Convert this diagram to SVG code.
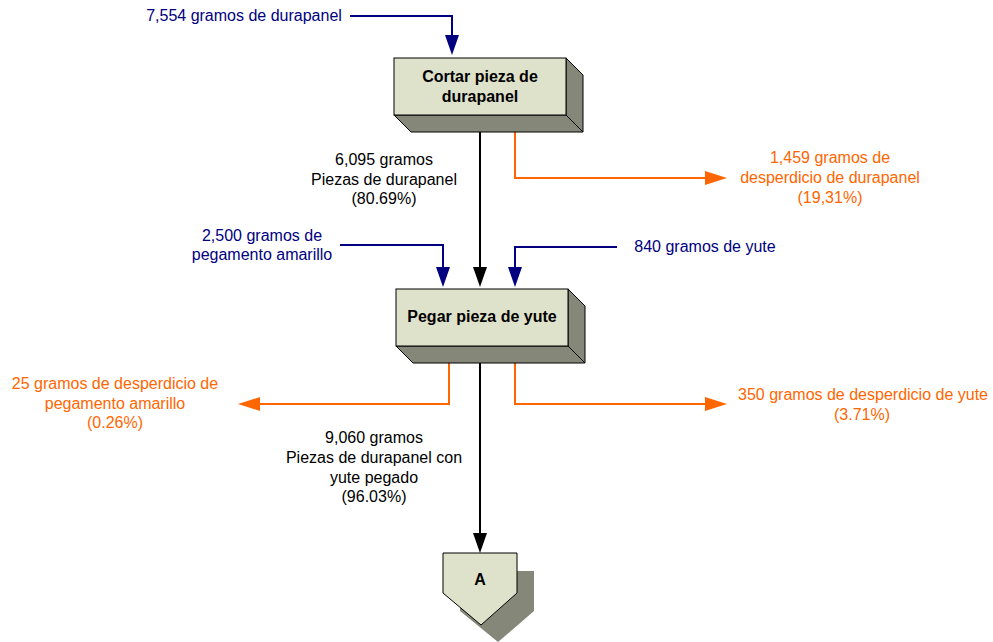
<svg xmlns="http://www.w3.org/2000/svg" width="993" height="642" viewBox="0 0 993 642">
  <style>
    text { font-family: "Liberation Sans", Arial, sans-serif; font-size: 16px; text-anchor: middle; }
    .blue { fill: #000080; }
    .orange { fill: #FF6600; }
    .black { fill: #000000; }
    .title { font-weight: bold; font-size: 16px; fill: #000; }
    .face { fill: #DFE2CB; stroke: #000; stroke-width: 1; }
    .shade { fill: #858878; stroke: #000; stroke-width: 1; }
    .ln { fill: none; stroke-width: 2; }
    .lb { stroke: #000080; }
    .lo { stroke: #FF6600; }
    .lk { stroke: #000; }
  </style>

  <rect width="993" height="642" fill="#FFFFFF"/>

  <!-- connectors -->
  <g id="connectors">
    <!-- feed lines (blue) -->
    <polyline class="ln lb" points="350,16 452,16 452,36"/>
    <polygon points="445,35 459,35 452,55" fill="#000080"/>
    <polyline class="ln lb" points="340,245 443,245 443,268"/>
    <polygon points="436,267 450,267 443,287" fill="#000080"/>
    <polyline class="ln lb" points="617,247 515,247 515,268"/>
    <polygon points="508,267 522,267 515,287" fill="#000080"/>
    <!-- main flow (black) -->
    <line class="ln lk" x1="480" y1="132" x2="480" y2="268"/>
    <polygon points="473,267 487,267 480,287" fill="#000"/>
    <line class="ln lk" x1="480" y1="363" x2="480" y2="534"/>
    <polygon points="473,533 487,533 480,553" fill="#000"/>
    <!-- waste lines (orange) -->
    <polyline class="ln lo" points="515,132 515,178 706,178"/>
    <polygon points="705,171 705,185 727,178" fill="#FF6600"/>
    <polyline class="ln lo" points="449,363 449,404 259,404"/>
    <polygon points="260,397 260,411 238,404" fill="#FF6600"/>
    <polyline class="ln lo" points="515,363 515,404 706,404"/>
    <polygon points="705,397 705,411 727,404" fill="#FF6600"/>
  </g>

  <!-- operation 1 -->
  <g id="cortar">
    <polygon class="shade" points="566,58 583,75 583,132 566,115"/>
    <polygon class="shade" points="394,115 566,115 583,132 411,132"/>
    <rect class="face" x="394" y="58" width="172" height="57"/>
    <text class="title" x="480" y="82">Cortar pieza de</text>
    <text class="title" x="480" y="102">durapanel</text>
  </g>

  <!-- operation 2 -->
  <g id="pegar">
    <polygon class="shade" points="568,289 585,306 585,363 568,346"/>
    <polygon class="shade" points="396,346 568,346 585,363 413,363"/>
    <rect class="face" x="396" y="289" width="172" height="57"/>
    <text class="title" x="482" y="322">Pegar pieza de yute</text>
  </g>

  <!-- connector A -->
  <g id="conector-a">
    <polygon fill="#858878" points="460,571 534,571 534,611 498,642 460,611"/>
    <polygon class="face" points="443,553 517,553 517,593 481,625 443,593"/>
    <text class="title" x="480" y="585">A</text>
  </g>

  <!-- labels -->
  <g id="labels">
    <text class="blue" x="244" y="21">7,554 gramos de durapanel</text>
    <text class="black" x="384" y="165">6,095 gramos</text>
    <text class="black" x="384" y="185">Piezas de durapanel</text>
    <text class="black" x="384" y="204">(80.69%)</text>
    <text class="orange" x="830" y="163">1,459 gramos de</text>
    <text class="orange" x="830" y="183">desperdicio de durapanel</text>
    <text class="orange" x="830" y="203">(19,31%)</text>
    <text class="blue" x="262" y="241">2,500 gramos de</text>
    <text class="blue" x="262" y="260">pegamento amarillo</text>
    <text class="blue" x="705" y="252">840 gramos de yute</text>
    <text class="orange" x="115" y="389">25 gramos de desperdicio de</text>
    <text class="orange" x="115" y="409">pegamento amarillo</text>
    <text class="orange" x="115" y="428">(0.26%)</text>
    <text class="orange" x="863" y="400">350 gramos de desperdicio de yute</text>
    <text class="orange" x="862" y="420">(3.71%)</text>
    <text class="black" x="374" y="443">9,060 gramos</text>
    <text class="black" x="374" y="463">Piezas de durapanel con</text>
    <text class="black" x="374" y="483">yute pegado</text>
    <text class="black" x="374" y="502">(96.03%)</text>
  </g>
</svg>
